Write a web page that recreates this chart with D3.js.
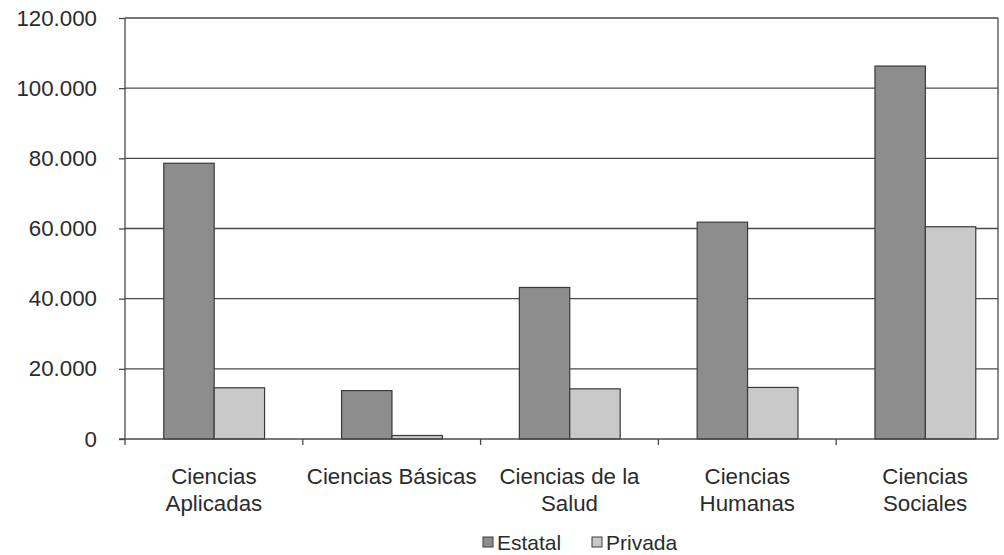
<!DOCTYPE html>
<html>
<head>
<meta charset="utf-8">
<script src="https://cdn.jsdelivr.net/npm/d3@7"></script>
<style>
  html, body { margin: 0; padding: 0; background: #fff; }
  svg { display: block; }
  text { font-family: "Liberation Sans", Arial, sans-serif; fill: #2b2b2b; }
</style>
</head>
<body>
<svg id="chart" width="1004" height="555"></svg>
<script>
// ---- data ----
const categories = [
  ["Ciencias", "Aplicadas"],
  ["Ciencias Básicas"],
  ["Ciencias de la", "Salud"],
  ["Ciencias", "Humanas"],
  ["Ciencias", "Sociales"]
];
const seriesNames = ["Estatal", "Privada"];
const estatal = [78600, 13800, 43200, 61800, 106300];
const privada = [14600, 1000, 14300, 14700, 60500];
const yTicks = [0, 20000, 40000, 60000, 80000, 100000, 120000];

(function () {
// ---- layout ----
const svg = d3.select("#chart");
const pLeft = 125, frameRight = 998, bandRight = 1014, pTop = 18, pBottom = 439;
const colors = { Estatal: "#8d8d8d", Privada: "#c9c9c9" };
const gridColor = "#4a4a4a";

const keys = categories.map(c => c.join(" "));
const x = d3.scaleBand().domain(keys).range([pLeft, bandRight]).padding(0);
const xInner = d3.scaleBand().domain(seriesNames)
  .range([x.bandwidth() * 0.218, x.bandwidth() * 0.785]).padding(0);
const y = d3.scaleLinear().domain([0, 120000]).range([pBottom, pTop]);

const loc = d3.formatLocale({ decimal: ",", thousands: ".", grouping: [3], currency: ["", ""] });
const fmt = loc.format(",");

// clip for plot area
svg.append("defs").append("clipPath").attr("id", "clip")
  .append("rect").attr("x", pLeft).attr("y", 0).attr("width", frameRight - pLeft).attr("height", pBottom + 10);

// gridlines
svg.append("g").selectAll("line").data(yTicks.filter(d => d > 0)).join("line")
  .attr("x1", pLeft).attr("x2", frameRight)
  .attr("y1", d => y(d)).attr("y2", d => y(d))
  .attr("stroke", gridColor).attr("stroke-width", 1.3);

// y axis
const yAxis = d3.axisLeft(y).tickValues(yTicks).tickFormat(fmt).tickSize(6).tickPadding(22);
const gy = svg.append("g").attr("transform", `translate(${pLeft},0)`).call(yAxis);
gy.select(".domain").attr("stroke", gridColor).attr("stroke-width", 1.3).attr("d", `M0,${pTop}V${pBottom}`);
gy.selectAll(".tick line").attr("stroke", gridColor).attr("stroke-width", 1.3);
gy.selectAll(".tick text").attr("font-size", 22.3).attr("fill", "#2b2b2b")
  .style("font-family", '"Liberation Sans", Arial, sans-serif');

// right frame line
svg.append("line").attr("x1", frameRight).attr("x2", frameRight).attr("y1", pTop).attr("y2", pBottom)
  .attr("stroke", gridColor).attr("stroke-width", 1.3);

// bars
const rows = keys.map((k, i) => ({ key: k, values: [
  { s: "Estatal", v: estatal[i] }, { s: "Privada", v: privada[i] }
]}));
const bars = svg.append("g").attr("clip-path", "url(#clip)");
bars.selectAll("g").data(rows).join("g")
  .attr("transform", d => `translate(${x(d.key)},0)`)
  .selectAll("rect").data(d => d.values).join("rect")
  .attr("x", d => xInner(d.s))
  .attr("width", xInner.bandwidth())
  .attr("y", d => y(d.v))
  .attr("height", d => y(0) - y(d.v))
  .attr("fill", d => colors[d.s])
  .attr("stroke", "#3a3a3a").attr("stroke-width", 1.2);

// x axis line and ticks at category boundaries
svg.append("line").attr("x1", pLeft - 6).attr("x2", frameRight).attr("y1", pBottom).attr("y2", pBottom)
  .attr("stroke", gridColor).attr("stroke-width", 1.5);
const boundaries = keys.slice(1).map(k => x(k));
svg.append("g").selectAll("line").data(boundaries).join("line")
  .attr("x1", d => d).attr("x2", d => d).attr("y1", pBottom).attr("y2", pBottom + 6)
  .attr("stroke", gridColor).attr("stroke-width", 1.3);
svg.append("line").attr("x1", pLeft).attr("x2", pLeft).attr("y1", pBottom).attr("y2", pBottom + 6)
  .attr("stroke", gridColor).attr("stroke-width", 1.3);

// category labels
const lab = svg.append("g").selectAll("text").data(categories).join("text")
  .attr("x", (d, i) => x(keys[i]) + x.bandwidth() / 2)
  .attr("y", 484)
  .attr("text-anchor", "middle")
  .attr("font-size", 22.3);
lab.selectAll("tspan").data(d => d).join("tspan")
  .attr("x", function() { return d3.select(this.parentNode).attr("x"); })
  .attr("dy", (d, i) => i === 0 ? 0 : 27)
  .text(d => d);

// legend
const legendItems = [
  { s: "Estatal", x: 483 },
  { s: "Privada", x: 592 }
];
const lg = svg.append("g").selectAll("g").data(legendItems).join("g")
  .attr("transform", d => `translate(${d.x},537)`);
lg.append("rect").attr("width", 10).attr("height", 10)
  .attr("fill", d => colors[d.s]).attr("stroke", "#3a3a3a").attr("stroke-width", 1);
lg.append("text").attr("x", 14).attr("y", 12.5).attr("font-size", 21).text(d => d.s);
})();
</script>
</body>
</html>
